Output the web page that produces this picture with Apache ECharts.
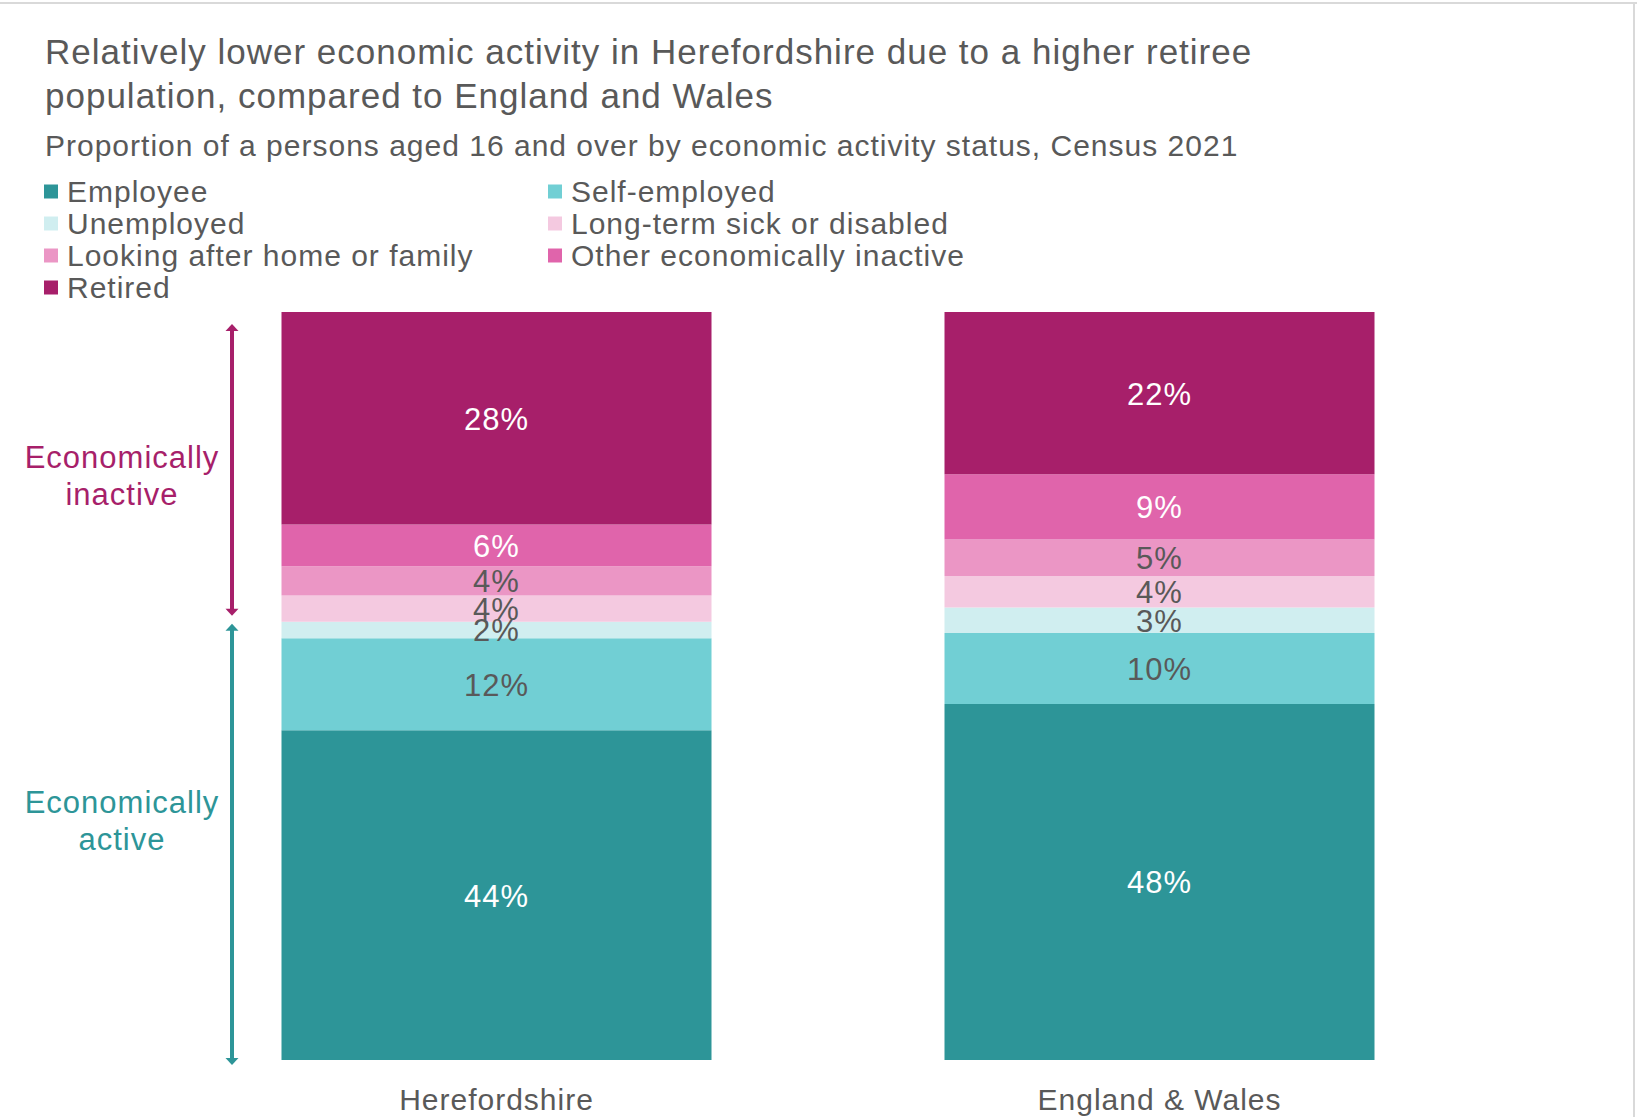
<!DOCTYPE html>
<html>
<head>
<meta charset="utf-8">
<title>Economic activity, Census 2021</title>
<script src="https://cdn.jsdelivr.net/npm/echarts@6/dist/echarts.min.js"></script>
<style>
  html, body { margin: 0; padding: 0; background: #ffffff; }
  #chart { width: 1637px; height: 1117px; }
  /* slightly open tracking, as in the original slide typography */
  #chart text { letter-spacing: 1px; }
</style>
</head>
<body>
<div id="chart"></div>
<script>
// Areas compared
const areas = ['Herefordshire', 'England & Wales'];

// Economic activity status (bottom of the stack first)
const statuses = [
  'Employee',
  'Self-employed',
  'Unemployed',
  'Long-term sick or disabled',
  'Looking after home or family',
  'Other economically inactive',
  'Retired'
];

// Share of persons aged 16+ (%), per status: [Herefordshire, England & Wales]
const employee        = [44.1, 47.6];
const selfEmployed    = [12.3, 9.5];
const unemployed      = [2.2, 3.4];
const longTermSick    = [3.5, 4.2];
const lookingAfter    = [3.9, 4.9];
const otherInactive   = [5.6, 8.7];
const retired         = [28.4, 21.7];

const statusValues = [employee, selfEmployed, unemployed, longTermSick, lookingAfter, otherInactive, retired];
const statusColors = ['#2D9598', '#71CFD4', '#D0EEF0', '#F4C9E0', '#EB96C5', '#E064AB', '#A71F6A'];
const labelColors  = ['#ffffff', '#595959', '#595959', '#595959', '#595959', '#ffffff', '#ffffff'];

const FONT = '"Liberation Sans", Arial, sans-serif';
const GREY = '#595959';
const ACTIVE_COLOR = '#2D9598';
const INACTIVE_COLOR = '#A71F6A';

const chart = echarts.init(document.getElementById('chart'), null, { renderer: 'svg' });

const series = statuses.map((name, i) => ({
  name: name,
  type: 'bar',
  stack: 'total',
  barWidth: 430,
  data: statusValues[i],
  itemStyle: { color: statusColors[i] },
  label: {
    show: true,
    position: 'inside',
    offset: [0, 1],
    fontFamily: FONT,
    fontSize: 31,
    color: labelColors[i],
    formatter: p => Math.round(p.value) + '%'
  },
  emphasis: { disabled: true }
}));

const legendText = {
  fontFamily: FONT,
  fontSize: 30,
  color: GREY,
  lineHeight: 31,
  padding: [0, 0, 0, 4]
};

chart.setOption({
  animation: false,
  backgroundColor: '#ffffff',
  title: [
    {
      text: 'Relatively lower economic activity in Herefordshire due to a higher retiree\npopulation, compared to England and Wales',
      left: 40,
      top: 24,
      textStyle: { fontFamily: FONT, fontSize: 35, fontWeight: 'normal', color: GREY, lineHeight: 44 }
    },
    {
      text: 'Proportion of a persons aged 16 and over by economic activity status, Census 2021',
      left: 40,
      top: 124,
      textStyle: { fontFamily: FONT, fontSize: 30, fontWeight: 'normal', color: GREY, lineHeight: 32 }
    }
  ],
  legend: [
    {
      orient: 'vertical',
      left: 39,
      top: 171,
      itemWidth: 14,
      itemHeight: 14,
      itemGap: 1,
      icon: 'rect',
      selectedMode: false,
      data: [statuses[0], statuses[2], statuses[4], statuses[6]],
      textStyle: legendText
    },
    {
      orient: 'vertical',
      left: 543,
      top: 171,
      itemWidth: 14,
      itemHeight: 14,
      itemGap: 1,
      icon: 'rect',
      selectedMode: false,
      data: [statuses[1], statuses[3], statuses[5]],
      textStyle: legendText
    }
  ],
  grid: { left: 165, right: 146, top: 312, bottom: 57, containLabel: false },
  xAxis: {
    type: 'category',
    data: areas,
    axisLine: { show: false },
    axisTick: { show: false },
    axisLabel: { fontFamily: FONT, fontSize: 30, color: GREY, margin: 24 }
  },
  yAxis: {
    type: 'value',
    min: 0,
    max: 100,
    show: false,
    splitLine: { show: false }
  },
  series: series
});

// Bracket arrows grouping the active and inactive statuses
function arrowGroup(x, yTop, yBottom, color) {
  const head = 7, half = 6.5;
  return {
    type: 'group',
    silent: true,
    children: [
      { type: 'line', shape: { x1: x, y1: yTop + head - 1, x2: x, y2: yBottom - head + 1 },
        style: { stroke: color, lineWidth: 4 } },
      { type: 'polygon', shape: { points: [[x, yTop], [x - half, yTop + head], [x + half, yTop + head]] },
        style: { fill: color } },
      { type: 'polygon', shape: { points: [[x, yBottom], [x - half, yBottom - head], [x + half, yBottom - head]] },
        style: { fill: color } }
    ]
  };
}

const activeShare = employee[0] + selfEmployed[0] + unemployed[0];
const yZero = chart.convertToPixel({ yAxisIndex: 0 }, 0);
const yActive = chart.convertToPixel({ yAxisIndex: 0 }, activeShare);
const yFull = chart.convertToPixel({ yAxisIndex: 0 }, 100);
const arrowX = 232;

const inactiveTop = yFull + 12, inactiveBottom = yActive - 6;
const activeTop = yActive + 2, activeBottom = yZero + 5;

chart.setOption({
  graphic: [
    // frame edges
    { type: 'line', shape: { x1: 0, y1: 3, x2: 1637, y2: 3 }, style: { stroke: '#d9d9d9', lineWidth: 2 }, silent: true },
    { type: 'line', shape: { x1: 1634, y1: 3, x2: 1634, y2: 1117 }, style: { stroke: '#d9d9d9', lineWidth: 2 }, silent: true },
    arrowGroup(arrowX, inactiveTop, inactiveBottom, INACTIVE_COLOR),
    arrowGroup(arrowX, activeTop, activeBottom, ACTIVE_COLOR),
    {
      type: 'text',
      x: 122, y: (inactiveTop + inactiveBottom) / 2 + 6,
      silent: true,
      style: {
        text: 'Economically\ninactive', fill: INACTIVE_COLOR, font: '31px ' + FONT,
        align: 'center', verticalAlign: 'middle', lineHeight: 37
      }
    },
    {
      type: 'text',
      x: 122, y: (activeTop + activeBottom) / 2 - 23,
      silent: true,
      style: {
        text: 'Economically\nactive', fill: ACTIVE_COLOR, font: '31px ' + FONT,
        align: 'center', verticalAlign: 'middle', lineHeight: 37
      }
    }
  ]
});
</script>
</body>
</html>
